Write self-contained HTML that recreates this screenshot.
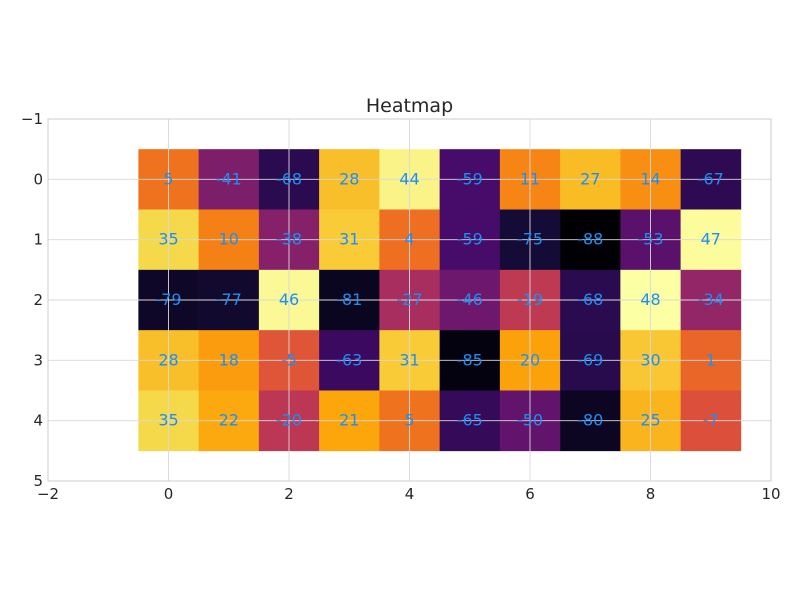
<!DOCTYPE html>
<html><head><meta charset="utf-8"><style>
body{margin:0;background:#fff}
svg text{font-family:"DejaVu Sans","Liberation Sans",sans-serif}
</style></head><body>
<svg id="chart" width="800" height="600" xmlns="http://www.w3.org/2000/svg">
<rect width="800" height="600" fill="#fff"/>
<text x="409.5" y="112" text-anchor="middle" font-size="19" fill="#262626">Heatmap</text>
<g id="cells"></g>
<g id="grid"></g>
<g id="labels"></g>
<rect x="48" y="119" width="723" height="362" fill="none" stroke="#cccccc" stroke-width="1"/>
<g id="ticks"></g>
</svg>
<script>
const values = [
 [5,-41,-68,28,44,-59,11,27,14,-67],
 [35,10,-38,31,4,-59,-75,-88,-53,47],
 [-79,-77,46,-81,-27,-46,-19,-68,48,-34],
 [28,18,-5,-63,31,-85,20,-69,30,1],
 [35,22,-20,21,5,-65,-50,-80,25,-7]
];
const xTicks = [-2,0,2,4,6,8,10];
const yTicks = [-1,0,1,2,3,4,5];
const xTickLabels = ["\u22122","0","2","4","6","8","10"];
const yTickLabels = ["\u22121","0","1","2","3","4","5"];

const X0=48,X1=771,Y0=119,Y1=481;
const xMin=-2,xMax=10,yMin=-1,yMax=5;
const sx=v=>X0+(v-xMin)/(xMax-xMin)*(X1-X0);
const sy=v=>Y0+(v-yMin)/(yMax-yMin)*(Y1-Y0);
const stops=["#000004","#160b39","#420a68","#6a176e","#932667","#bc3754","#dd513a","#f37819","#fca50a","#f6d746","#fcffa4"];
function hex(h){return [1,3,5].map(i=>parseInt(h.substr(i,2),16));}
function inferno(t){t=Math.max(0,Math.min(1,t));const p=t*10,i=Math.min(9,Math.floor(p)),f=p-i;
 const a=hex(stops[i]),b=hex(stops[i+1]);return "rgb("+a.map((c,k)=>Math.round(c+(b[k]-c)*f)).join(",")+")";}
const flat=values.flat(),vmin=Math.min(...flat),vmax=Math.max(...flat);
const NS="http://www.w3.org/2000/svg";
function mk(tag,attrs,parent){const e=document.createElementNS(NS,tag);for(const k in attrs)e.setAttribute(k,attrs[k]);parent.appendChild(e);return e;}
const cells=document.getElementById('cells'),labels=document.getElementById('labels'),grid=document.getElementById('grid'),ticks=document.getElementById('ticks');
values.forEach((row,r)=>row.forEach((v,c)=>{
 const x=sx(c-0.5),y=sy(r-0.5);
 const rc=mk('rect',{x:x,y:y,width:sx(c+0.5)-x+0.3,height:sy(r+0.5)-y+0.3,fill:inferno((v-vmin)/(vmax-vmin))},cells);
 
 
 const t=mk('text',{x:sx(c),y:sy(r)+5,'text-anchor':'middle','font-size':16,fill:'#1e8ff0'},labels);
 t.textContent=String(v);
 
 
}));
xTicks.forEach((v,i)=>{
 const g=mk('line',{x1:sx(v),x2:sx(v),y1:Y0,y2:Y1,stroke:'#d9d9d9','stroke-width':0.9},grid);
 
 
 const t=mk('text',{x:sx(v),y:Y1+18,'text-anchor':'middle','font-size':15,fill:'#262626'},ticks);
 t.textContent=xTickLabels[i];
 
 
});
yTicks.forEach((v,i)=>{
 const g=mk('line',{x1:X0,x2:X1,y1:sy(v),y2:sy(v),stroke:'#d9d9d9','stroke-width':0.9},grid);
 
 
 const t=mk('text',{x:X0-5,y:sy(v)+5,'text-anchor':'end','font-size':15,fill:'#262626'},ticks);
 t.textContent=yTickLabels[i];
 
 
});
</script>
</body></html>
